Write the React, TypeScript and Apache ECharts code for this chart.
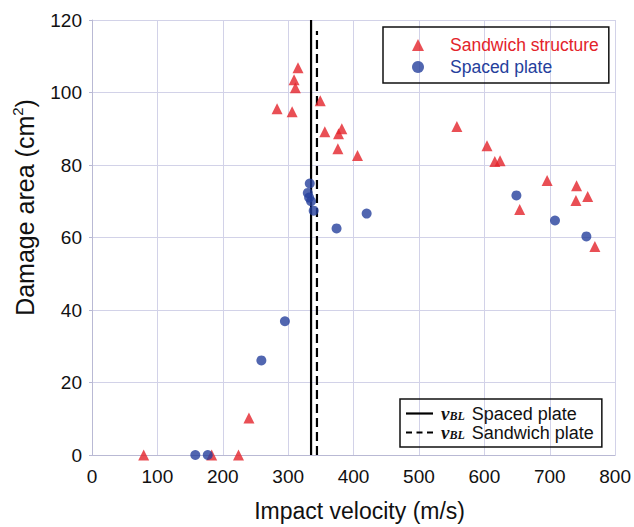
import React, { useEffect, useRef } from "react";
import * as echarts from "echarts";

const sandwichX = [79, 183, 224, 240, 283, 306, 309, 311, 315, 349, 356, 376, 377, 382, 406, 558, 604, 616, 624, 654, 696, 740, 741, 758, 769];
const sandwichY = [0, 0, 0, 10.2, 95.5, 94.7, 103.5, 101.3, 106.8, 97.7, 89.2, 84.5, 88.6, 90, 82.6, 90.6, 85.3, 81, 81.2, 67.7, 75.7, 70.2, 74.3, 71.3, 57.5];
const spacedX = [158, 177, 259, 295, 330, 332, 333, 335, 339, 374, 420, 649, 708, 756];
const spacedY = [0, 0, 26.1, 36.9, 72.3, 71, 74.9, 70, 67.4, 62.5, 66.6, 71.6, 64.7, 60.3];
const vblSpaced = 335;
const vblSandwich = 344;
const xTicks = [0, 800, 100];
const yTicks = [0, 120, 20];

const RED = "#e3232a";
const BLUE = "#25409c";
const FONT = "Liberation Sans, Arial, sans-serif";
const SOLID_ICON = "path://M0,0h27v2.2h-27z";
const DASH_ICON = "path://M0,0h6v2.2h-6zM10.5,0h6v2.2h-6zM21,0h6v2.2h-6z";

export default function App() {
  const ref = useRef<HTMLDivElement>(null);
  useEffect(() => {
    const chart = echarts.init(ref.current!, null, { renderer: "svg" });
    const sandData = sandwichX.map((x, i) => [x, sandwichY[i]]);
    const spacedData = spacedX.map((x, i) => [x, spacedY[i]]);
    chart.setOption({
      animation: false,
      backgroundColor: "#fff",
      grid: { left: 92, right: 16, top: 20, bottom: 71 },
      xAxis: {
        type: "value",
        min: xTicks[0],
        max: xTicks[1],
        interval: xTicks[2],
        name: "Impact velocity (m/s)",
        nameLocation: "middle",
        nameGap: 44,
        nameTextStyle: { fontFamily: FONT, fontSize: 23, color: "#111", padding: [0, 0, 0, 12] },
        axisLine: { show: true, lineStyle: { color: "#b9b9d4", width: 1 } },
        axisTick: { show: false },
        axisLabel: { fontFamily: FONT, fontSize: 19, color: "#111", margin: 12 },
        splitLine: { show: true, lineStyle: { color: "#d2d2e8", width: 1 } },
      },
      yAxis: {
        type: "value",
        min: yTicks[0],
        max: yTicks[1],
        interval: yTicks[2],
        name: "Damage area (cm{sup|2})",
        nameLocation: "middle",
        nameGap: 52,
        nameTextStyle: {
          fontFamily: FONT,
          fontSize: 25,
          color: "#111",
          lineHeight: 29,
          padding: [0, 0, 0, 60],
          rich: {
            sup: { fontFamily: FONT, fontSize: 15, color: "#111", verticalAlign: "top", lineHeight: 29 },
          },
        },
        axisLine: { show: true, lineStyle: { color: "#b9b9d4", width: 1 } },
        axisTick: { show: true, inside: false, length: 3, lineStyle: { color: "#b9b9d4" } },
        axisLabel: { fontFamily: FONT, fontSize: 19, color: "#111", margin: 10 },
        splitLine: { show: true, lineStyle: { color: "#d2d2e8", width: 1 } },
      },
      legend: [
        {
          orient: "vertical",
          left: 383,
          top: 27,
          padding: [8, 10, 6, 29],
          itemGap: 2,
          itemWidth: 12,
          itemHeight: 12,
          borderColor: "#111",
          borderWidth: 1.5,
          textStyle: { fontFamily: FONT, fontSize: 17.5, lineHeight: 20, padding: [0, 0, 0, 21] },
          data: [
            { name: "Sandwich structure", textStyle: { color: RED } },
            { name: "Spaced plate", textStyle: { color: BLUE } },
          ],
        },
        {
          orient: "vertical",
          left: 400,
          top: 399,
          padding: [5, 8, 5, 6],
          itemGap: 0,
          itemWidth: 27,
          itemHeight: 2.2,
          borderColor: "#111",
          borderWidth: 1.5,
          data: [
            { name: "vBL Spaced plate", icon: SOLID_ICON },
            { name: "vBL Sandwich plate", icon: DASH_ICON },
          ],
          formatter: (name: string) => "{v|v}{s|BL}" + name.slice(3),
          textStyle: {
            fontFamily: FONT,
            fontSize: 18,
            color: "#111",
            lineHeight: 17,
            padding: [0, 0, 0, 3],
            rich: {
              v: { fontFamily: "Liberation Serif, serif", fontStyle: "italic", fontWeight: "bold", fontSize: 19, color: "#111", lineHeight: 17 },
              s: { fontFamily: "Liberation Serif, serif", fontStyle: "italic", fontWeight: "bold", fontSize: 12, color: "#111", verticalAlign: "bottom", lineHeight: 17, padding: [5, 2, 0, 0] },
            },
          },
        },
      ],
      series: [
        {
          name: "vBL Spaced plate",
          type: "line",
          data: [[vblSpaced, 0], [vblSpaced, 120]],
          symbol: "none",
          lineStyle: { color: "#000", width: 2.2, type: "solid" },
          itemStyle: { color: "#000" },
          z: 1,
        },
        {
          name: "vBL Sandwich plate",
          type: "line",
          data: [[vblSandwich, 0], [vblSandwich, 117]],
          symbol: "none",
          lineStyle: { color: "#000", width: 2.2, type: [9, 5] },
          itemStyle: { color: "#000" },
          z: 1,
        },
        {
          name: "Sandwich structure",
          type: "scatter",
          data: sandData,
          symbol: "triangle",
          symbolSize: 11,
          itemStyle: { color: RED },
          z: 3,
        },
        {
          name: "Spaced plate",
          type: "scatter",
          data: spacedData,
          symbol: "circle",
          symbolSize: 10,
          itemStyle: { color: BLUE },
          z: 4,
        },
      ],
    });
    return () => chart.dispose();
  }, []);
  return (
    <div
      ref={ref}
      style={{ position: "fixed", left: 0, top: 0, width: 634, height: 527, background: "#fff" }}
    />
  );
}
